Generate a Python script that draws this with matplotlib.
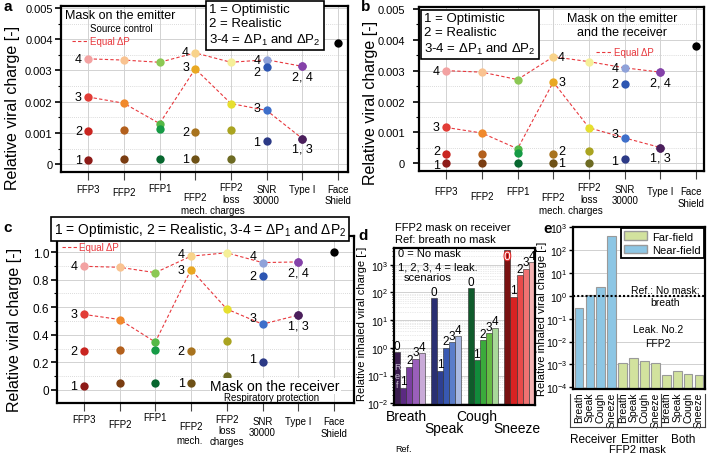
import matplotlib
matplotlib.use("Agg")
import matplotlib.pyplot as plt
import matplotlib.patheffects as pe
import numpy as np
from matplotlib.lines import Line2D
from matplotlib.patches import Patch
from matplotlib.ticker import MultipleLocator, FuncFormatter, LogLocator, NullFormatter, NullLocator

plt.rcParams['font.family'] = ['Liberation Sans', 'DejaVu Sans']
plt.rcParams['mathtext.fontset'] = 'custom'
plt.rcParams['mathtext.rm'] = 'Liberation Sans'
plt.rcParams['mathtext.it'] = 'Liberation Sans:italic'
plt.rcParams['mathtext.bf'] = 'Liberation Sans:bold'

# ---------------- data ----------------
masks = ['FFP3', 'FFP2', 'FFP1', 'FFP2 mech.', 'FFP2 loss', 'SNR 30000', 'Type I']

# scenario 1 = optimistic, 2 = realistic, 3/4 = dP1 / dP2
emit_1 = [0.00013, 0.00015, 0.00015, 0.00016, 0.00016, 0.00074, 0.00082]
emit_2 = [0.00106, 0.00109, 0.00112, 0.00104, 0.00110, 0.00312, 0.00313]
emit_3 = [0.00215, 0.00195, 0.00130, 0.00305, 0.00194, 0.00172, 0.00082]
emit_4 = [0.00337, 0.00333, 0.00326, 0.00356, 0.00326, 0.00334, 0.00313]
emit_face = 0.00388

both_1 = [0.00000, 0.00000, 0.00000, 0.00000, 0.00002, 0.00015, 0.00051]
both_2 = [0.00031, 0.00031, 0.00032, 0.00031, 0.00039, 0.00257, 0.00295]
both_3 = [0.00116, 0.00098, 0.00047, 0.00263, 0.00115, 0.00082, 0.00051]
both_4 = [0.00300, 0.00295, 0.00271, 0.00345, 0.00329, 0.00309, 0.00295]
both_face = 0.00380

recv_1 = [0.032, 0.049, 0.049, 0.049, 0.103, 0.205, 0.543]
recv_2 = [0.286, 0.289, 0.289, 0.286, 0.352, 0.826, 0.929]
recv_3 = [0.548, 0.511, 0.347, 0.873, 0.587, 0.477, 0.543]
recv_4 = [0.897, 0.890, 0.851, 0.971, 0.995, 0.924, 0.929]
recv_face = 1.0

mask_colors = [
    ['#8e1b18', '#c92520', '#e23d37', '#f3a2a2'],
    ['#7a3d12', '#b3601d', '#f0892c', '#f9c391'],
    ['#07672f', '#169b46', '#55b947', '#8cc854'],
    ['#6e5116', '#a8731e', '#e9a822', '#f8d38a'],
    ['#6d6b23', '#aaa421', '#e6df2f', '#f5ef98'],
    ['#2c3a86', '#2d56b2', '#3e6fca', '#8fa2d9'],
    ['#4b1f5c', '#8542a9', '#4b1f5c', '#8542a9'],
]

activities = ['Breath', 'Speak', 'Cough', 'Sneeze']
d_breath = [0.7, 0.037, 0.21, 0.4, 0.65]
d_speak = [62, 0.15, 1.0, 1.6, 2.6]
d_cough = [140, 0.36, 1.9, 3.3, 5.3]
d_sneeze = [3500, 70, 420, 720, 1230]
d_colors = [
    ['#3b1d50', '#5b2a82', '#7b3fa2', '#9a5fbb', '#c9aad8'],
    ['#2a2f72', '#2e3f92', '#3858b2', '#5a7dca', '#a9b9e2'],
    ['#0f5b2b', '#118b3b', '#3aab3b', '#67bc45', '#a9d99a'],
    ['#7a1212', '#d92222', '#e94a4a', '#f07272', '#f5b2b2'],
]

e_labels = activities * 3
e_groups = ['Receiver', 'Emitter', 'Both']
e_receiver = [0.29, 1.1, 2.5, 410]
e_emitter = [1.2e-3, 1.9e-3, 1.35e-3, 1.2e-3]
e_both = [3.6e-4, 5.3e-4, 4.0e-4, 3.6e-4]
near_col = '#8dc6e4'
far_col = '#d2e29e'

red = '#e8383d'

# ---------------- figure ----------------
fig = plt.figure(figsize=(7.08, 4.56), dpi=100)
W, H = 708, 456


def add_ax(left, top, right, bottom):
    return fig.add_axes([left / W, 1 - bottom / H, (right - left) / W, (bottom - top) / H])


def ftext(x, y, s, **kw):
    return fig.text(x / W, 1 - y / H, s, **kw)


def fline(xs, ys, **kw):
    fig.add_artist(Line2D([x / W for x in xs], [1 - y / H for y in ys], **kw))


def charge_panel(ax, rows, face, xlim, ylim, major, minor, fmt, ysize, ypad, lab):
    x = np.arange(len(masks))
    for r in (3, 2):
        ax.plot(x, rows[r], ls=(0, (3, 2)), color=red, lw=0.8, zorder=2)
    for i in range(len(masks)):
        for s in (3, 2, 1, 0):
            ax.plot(x[i], rows[s][i], 'o', ms=6, color=mask_colors[i][s], mew=0, zorder=3)
    ax.plot(len(masks), face, 'o', ms=6, color='black', mew=0, zorder=3)
    ax.set_xlim(*xlim)
    ax.set_ylim(*ylim)
    ax.set_xticks(np.arange(len(masks) + 1))
    ax.set_xticklabels([])
    ax.yaxis.set_major_locator(MultipleLocator(major))
    ax.yaxis.set_minor_locator(MultipleLocator(minor))
    ax.yaxis.set_major_formatter(FuncFormatter(fmt))
    ax.grid(which='major', color='#d2d2d2', lw=0.7)
    ax.grid(which='minor', axis='y', color='#cfcfcf', lw=0.6, ls=(0, (1, 1.5)))
    ax.set_axisbelow(True)
    for sp in ax.spines.values():
        sp.set_linewidth(1.6)
    ax.tick_params(axis='x', direction='out', length=6, width=0.8, color='#444444')
    ax.tick_params(axis='y', which='major', length=4, width=1.2, labelsize=ysize, pad=ypad)
    ax.tick_params(axis='y', which='minor', length=2.5, width=0.8)
    ax.set_ylabel('Relative viral charge [-]', fontsize=11.5)
    ax.yaxis.set_label_coords(*lab)


def tags(ax, rows, specs):
    for i, s, txt, side, dy in specs:
        y = rows[s][i]
        if side == 'l':
            ax.annotate(txt, (i, y), xytext=(-4.5, dy), textcoords='offset points',
                        ha='right', va='center', fontsize=9, zorder=4)
        elif side == 'r':
            ax.annotate(txt, (i, y), xytext=(3.5, dy), textcoords='offset points',
                        ha='left', va='center', fontsize=9, zorder=4)
        else:
            ax.annotate(txt, (i, y), xytext=(0, -3 + dy), textcoords='offset points',
                        ha='center', va='top', fontsize=9, zorder=4)


def under(ax, specs):
    for x, s, dy in specs:
        ax.annotate(s, (x, 0), xycoords=ax.get_xaxis_transform(), xytext=(0, -dy),
                    textcoords='offset pixels', ha='center', va='center',
                    fontsize=7, linespacing=1.15, annotation_clip=False)


fmt3 = lambda v, p: '0' if abs(v) < 1e-9 else f'{v:.3f}'
fmt1 = lambda v, p: '0' if abs(v) < 1e-9 else f'{v:.1f}'

# ---- panel a ----
ax_a = add_ax(61, 7, 348, 173)
rows_a = [emit_1, emit_2, emit_3, emit_4]
charge_panel(ax_a, rows_a, emit_face, (-0.76, 7.28), (-0.00025, 0.00506),
             0.001, 0.0005, fmt3, 8, 2, (-0.143, 0.39))
tags(ax_a, rows_a, [(0, 3, '4', 'l', 0), (0, 2, '3', 'l', 0), (0, 1, '2', 'l', 0), (0, 0, '1', 'l', 0),
                    (3, 3, '4', 'l', 1), (3, 2, '3', 'l', 1), (3, 1, '2', 'l', 0), (3, 0, '1', 'l', 0),
                    (5, 3, '4', 'l', 0), (5, 1, '2', 'l', -4), (5, 2, '3', 'l', 1.5), (5, 0, '1', 'l', -1),
                    (6, 1, '2, 4', 'b', 0), (6, 0, '1, 3', 'b', 0)])
under(ax_a, [(0, 'FFP3', 17), (1, 'FFP2', 20), (2, 'FFP1', 16), (3, 'FFP2', 25),
             (4, 'FFP2\nloss', 21), (3.5, 'mech. charges', 38), (5, 'SNR\n30000', 22.5),
             (6, 'Type I', 17), (7, 'Face\nShield', 22.5)])
ftext(65, 16, 'Mask on the emitter', fontsize=9, va='center')
ftext(90, 29, 'Source control', fontsize=7, va='center')
fline([72, 87], [42, 42], color=red, lw=0.8, ls=(0, (3, 2)))
ftext(90, 42, 'Equal ΔP', fontsize=7, color=red, va='center')
ftext(209, 26, '1 = Optimistic\n2 = Realistic\n3-4 = ΔP$_1$ and ΔP$_2$', fontsize=9.5,
      va='center', linespacing=1.2,
      bbox=dict(boxstyle='square,pad=0.25', fc='white', ec='black', lw=1.2))
ftext(3, 7, 'a', fontsize=11, fontweight='bold', va='center')

# ---- panel b ----
ax_b = add_ax(419, 8, 704, 172)
rows_b = [both_1, both_2, both_3, both_4]
charge_panel(ax_b, rows_b, both_face, (-0.76, 7.22), (-0.00025, 0.00506),
             0.001, 0.0005, fmt3, 8, 6, (-0.144, 0.42))
tags(ax_b, rows_b, [(0, 3, '4', 'l', 0), (0, 2, '3', 'l', 0), (0, 1, '2', 'l', 2), (0, 0, '1', 'l', -1),
                    (3, 3, '4', 'r', 0), (3, 2, '3', 'r', 0), (3, 1, '2', 'r', 2), (3, 0, '1', 'r', 0),
                    (5, 3, '4', 'l', 0), (5, 1, '2', 'l', 0), (5, 2, '3', 'l', 2.5), (5, 0, '1', 'l', -2),
                    (6, 1, '2, 4', 'b', 0), (6, 0, '1, 3', 'b', 0)])
under(ax_b, [(0, 'FFP3', 20), (1, 'FFP2', 25), (2, 'FFP1', 20), (3, 'FFP2', 26),
             (4, 'FFP2\nloss', 22), (3.5, 'mech. charges', 39), (5, 'SNR\n30000', 23.5),
             (6, 'Type I', 20), (6.86, 'Face\nShield', 26)])
ftext(424, 35, '1 = Optimistic\n2 = Realistic\n3-4 = ΔP$_1$ and ΔP$_2$', fontsize=9.5,
      va='center', linespacing=1.2,
      bbox=dict(boxstyle='square,pad=0.25', fc='white', ec='black', lw=1.2))
ftext(622, 26, 'Mask on the emitter\nand the receiver', fontsize=9, ha='center',
      va='center', linespacing=1.15)
fline([596, 611], [53, 53], color=red, lw=0.8, ls=(0, (3, 2)))
ftext(614, 53, 'Equal ΔP', fontsize=7, color=red, va='center')
ftext(361, 7, 'b', fontsize=11, fontweight='bold', va='center')

# ---- panel c ----
ax_c = add_ax(57, 237, 354, 404)
rows_c = [recv_1, recv_2, recv_3, recv_4]
charge_panel(ax_c, rows_c, recv_face, (-0.75, 7.56), (-0.095, 1.117),
             0.2, 0.1, fmt1, 8.5, 1.5, (-0.118, 0.443))
tags(ax_c, rows_c, [(0, 3, '4', 'l', 0), (0, 2, '3', 'l', 0), (0, 1, '2', 'l', 0), (0, 0, '1', 'l', 0),
                    (3, 3, '4', 'l', 1.5), (3, 2, '3', 'l', 0), (3, 1, '2', 'l', 0), (3, 0, '1', 'l', 0),
                    (5, 3, '4', 'l', 4.5), (5, 1, '2', 'l', 0), (5, 2, '3', 'l', 4.5), (5, 0, '1', 'l', 2),
                    (6, 1, '2, 4', 'b', 0), (6, 0, '1, 3', 'b', 0)])
under(ax_c, [(0, 'FFP3', 16), (1, 'FFP2', 21), (2, 'FFP1', 14), (3, 'FFP2', 23),
             (2.95, 'mech.', 37), (4, 'FFP2\nloss\ncharges', 27), (5, 'SNR\n30000', 23.5),
             (6, 'Type I', 18), (7, 'Face\nShield', 24)])
ftext(200, 230, '1 = Optimistic, 2 = Realistic, 3-4 = ΔP$_1$ and ΔP$_2$', fontsize=10,
      ha='center', va='center',
      bbox=dict(boxstyle='square,pad=0.2', fc='white', ec='black', lw=1.2))
fline([62, 77], [248, 248], color=red, lw=0.8, ls=(0, (3, 2)))
ftext(79, 248, 'Equal ΔP', fontsize=7, color=red, va='center')
ftext(340, 387, 'Mask on the receiver', fontsize=10, ha='right', va='center',
      bbox=dict(boxstyle='square,pad=0.05', fc='white', ec='none'))
ftext(272, 398, 'Respiratory protection', fontsize=7, ha='center', va='center')
ftext(3, 228, 'c', fontsize=11, fontweight='bold', va='center')

# ---- panel d ----
ax_d = add_ax(394, 249, 535, 406)
d_vals = [d_breath, d_speak, d_cough, d_sneeze]
for g, vals in enumerate(d_vals):
    xs = g * 6 + np.arange(5)
    ax_d.bar(xs, vals, width=1.0, color=d_colors[g], edgecolor='#2a2a2a', lw=0.4, zorder=2)
    for k, (xx, v) in enumerate(zip(xs, vals)):
        if v > 2000:
            ax_d.annotate(str(k), (xx, v), xytext=(0, -1), textcoords='offset points',
                          ha='center', va='top', fontsize=8.5, color='white',
                          path_effects=[pe.withStroke(linewidth=1.6, foreground='#e02a2a')])
        else:
            ax_d.annotate(str(k), (xx, v), xytext=(0, 0.3), textcoords='offset points',
                          ha='center', va='bottom', fontsize=8.5)
ax_d.text(0, 0.1, 'R\ne\nf', fontsize=6.5, color='#c9bfd3', ha='center', va='center', linespacing=1.0)
ax_d.set_yscale('log')
ax_d.set_ylim(0.0087, 4000)
ax_d.set_xlim(-0.5, 22.5)
ax_d.set_xticks([])
ax_d.yaxis.set_major_locator(LogLocator(base=10, numticks=10))
ax_d.yaxis.set_minor_locator(LogLocator(base=10, subs=np.arange(2, 10), numticks=20))
ax_d.yaxis.set_minor_formatter(NullFormatter())
ax_d.grid(which='major', axis='y', color='#d0d0d0', lw=0.7)
ax_d.grid(which='minor', axis='y', color='#d6d6d6', lw=0.5, ls=(0, (1, 1.5)))
ax_d.set_axisbelow(True)
for sp in ax_d.spines.values():
    sp.set_linewidth(1.6)
ax_d.tick_params(axis='y', which='major', length=3, width=1, labelsize=7.5, pad=1)
ax_d.tick_params(axis='y', which='minor', length=1.5, width=0.6)
ax_d.set_ylabel('Relative inhaled viral charge [-]', fontsize=8)
ax_d.yaxis.set_label_coords(-0.19, 0.525)
for g, (name, dy) in enumerate(zip(activities, [11, 23, 11, 23])):
    ax_d.annotate(name, (g * 6 + 1.6 - (0.6 if g == 2 else 0), 0), xycoords=ax_d.get_xaxis_transform(),
                  xytext=(0, -dy), textcoords='offset pixels', ha='center', va='center',
                  fontsize=10, annotation_clip=False)
ftext(398, 254, '0 = No mask', fontsize=8, va='center')
ftext(398, 267, '1, 2, 3, 4 = leak.', fontsize=8, va='center')
ftext(404, 278, 'scenarios', fontsize=8, va='center')
ftext(395, 228, 'FFP2 mask on receiver', fontsize=8, va='center')
ftext(395, 240, 'Ref: breath no mask', fontsize=8, va='center')
ftext(395, 450, 'Ref.', fontsize=6.5, va='center')
ftext(358, 236, 'd', fontsize=11, fontweight='bold', va='center')

# ---- panel e ----
ax_e = add_ax(573, 228, 705, 390)
e_vals = e_receiver + e_emitter + e_both
e_cols = [near_col] * len(e_receiver) + [far_col] * (len(e_emitter) + len(e_both))
ax_e.bar(np.arange(len(e_vals)), e_vals, width=0.8, color=e_cols, edgecolor='#9a9a9a',
         lw=0.8, zorder=2)
ax_e.axhline(1.0, color='black', ls=(0, (1, 1)), lw=1.5, zorder=3)
ax_e.set_yscale('log')
ax_e.set_ylim(8.5e-5, 1e3)
ax_e.set_xlim(-0.55, 11.55)
ax_e.set_xticks(np.arange(len(e_vals)))
ax_e.set_xticklabels(e_labels, rotation=90, fontsize=7.5)
ax_e.tick_params(axis='x', length=0, pad=2)
ax_e.yaxis.set_major_locator(LogLocator(base=10, numticks=10))
ax_e.yaxis.set_minor_locator(NullLocator())
ax_e.grid(which='major', axis='y', color='#d0d0d0', lw=0.7)
ax_e.set_axisbelow(True)
for sp in ax_e.spines.values():
    sp.set_linewidth(1.6)
ax_e.tick_params(axis='y', which='major', length=3, width=1, labelsize=7.5, pad=1)
ax_e.set_ylabel('Relative inhaled viral charge [-]', fontsize=8)
ax_e.yaxis.set_label_coords(-0.2, 0.44)
leg = ax_e.legend(handles=[Patch(fc=far_col, ec='#9a9a9a', label='Far-field'),
                           Patch(fc=near_col, ec='#9a9a9a', label='Near-field')],
                  loc='upper right', fontsize=8, fancybox=False, edgecolor='black',
                  framealpha=1, borderaxespad=0.1, handlelength=2.1, handleheight=0.8,
                  borderpad=0.3, labelspacing=0.3, handletextpad=0.4)
leg.get_frame().set_linewidth(1.3)
ax_e.text(7.9, 1.0, 'Ref.: No mask;\nbreath', fontsize=7.5, ha='center', va='center',
          linespacing=1.25)
ax_e.text(7.25, 0.018, 'Leak. No.2\nFFP2', fontsize=7.5, ha='center', va='center',
          linespacing=1.5)
fline([570, 705], [428, 428], color='#444444', lw=0.8)
for xv in (570, 617, 661, 705):
    fline([xv, xv], [395, 428], color='#444444', lw=0.8)
for name, xv in zip(e_groups, (593, 640, 683)):
    ftext(xv, 440, name, fontsize=8.5, ha='center', va='center')
ftext(637, 450, 'FFP2 mask', fontsize=8, ha='center', va='center')
ftext(543, 229, 'e', fontsize=11, fontweight='bold', va='center')

fig.savefig('out.png', dpi=100)
